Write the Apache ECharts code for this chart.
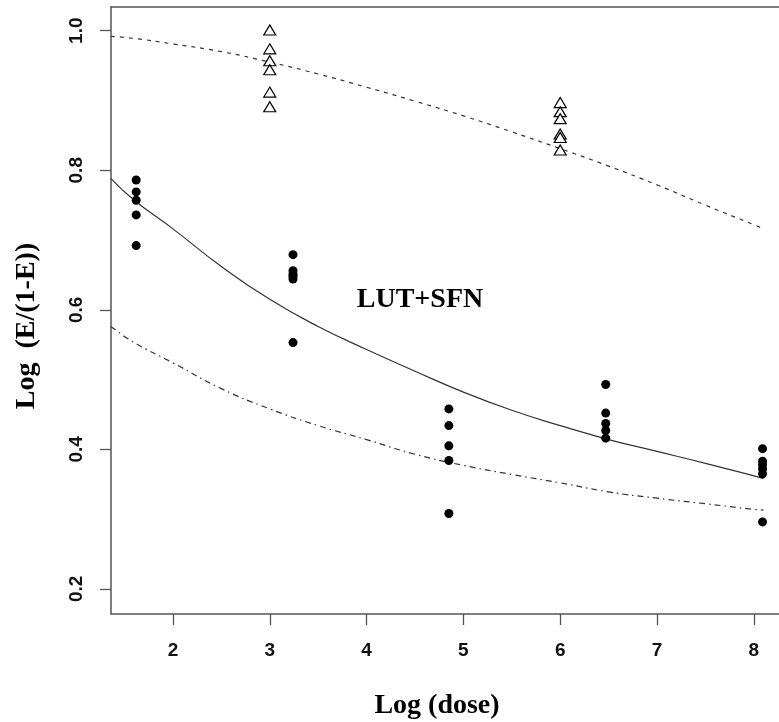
<!DOCTYPE html>
<html>
<head>
<meta charset="utf-8">
<script src="https://cdn.jsdelivr.net/npm/echarts@6/dist/echarts.min.js"></script>
<style>html,body{margin:0;padding:0;background:#fff}#c{width:779px;height:722px}</style>
</head>
<body>
<div id="c"></div>
<script>
// ---- data ----
const xTicks = [2, 3, 4, 5, 6, 7, 8];
const yTicks = [0.2, 0.4, 0.6, 0.8, 1.0];

// filled circles (LUT+SFN observed)
const circleX = [1.62,1.62,1.62,1.62,1.62, 3.24,3.24,3.24,3.24,3.24,3.24, 4.85,4.85,4.85,4.85,4.85, 6.47,6.47,6.47,6.47,6.47, 8.09,8.09,8.09,8.09,8.09,8.09];
const circleY = [0.786,0.769,0.757,0.736,0.692, 0.679,0.656,0.651,0.648,0.644,0.553, 0.458,0.434,0.405,0.384,0.308, 0.493,0.452,0.437,0.427,0.416, 0.401,0.383,0.378,0.372,0.365,0.296];

// open triangles
const triX = [3.0,3.0,3.0,3.0,3.0,3.0, 6.0,6.0,6.0,6.0,6.0,6.0];
const triY = [1.001,0.974,0.957,0.944,0.912,0.891, 0.897,0.884,0.874,0.852,0.847,0.829];

// fitted curves
const curveX = [1.36,1.6,2,2.5,3,3.5,4,4.5,5,5.5,6,6.5,7,7.5,8,8.1];
const solidY = [0.788,0.757,0.716,0.662,0.615,0.576,0.543,0.512,0.482,0.456,0.434,0.414,0.397,0.380,0.362,0.358];
const upperY = [0.992,0.989,0.981,0.970,0.955,0.938,0.919,0.899,0.878,0.855,0.831,0.806,0.779,0.750,0.722,0.716];
const lowerY = [0.576,0.553,0.524,0.487,0.458,0.434,0.414,0.393,0.377,0.364,0.352,0.339,0.330,0.322,0.314,0.313];

const zip = (a, b) => a.map((v, i) => [v, b[i]]);

const chart = echarts.init(document.getElementById('c'), null, {renderer: 'canvas'});
const axisCol = '#555';
const tickFont = {fontFamily: 'Liberation Sans', fontWeight: 'bold', fontSize: 19, color: '#111'};
const frameLine = {show: true, lineStyle: {color: axisCol, width: 1.5}};

chart.setOption({
  animation: false,
  backgroundColor: '#fff',
  grid: {left: 111, top: 7, bottom: 108, right: 0, show: false},
  xAxis: [{
    type: 'value', min: 1.36, max: 8.26, position: 'bottom',
    axisLine: Object.assign({onZero: false}, frameLine),
    splitLine: {show: false},
    axisTick: {show: true, length: 11, customValues: xTicks, lineStyle: {color: axisCol, width: 1.3}},
    axisLabel: Object.assign({margin: 27, customValues: xTicks, formatter: v => String(Math.round(v))}, tickFont)
  }, {
    type: 'value', min: 1.36, max: 8.26, position: 'top',
    axisLine: Object.assign({onZero: false}, frameLine),
    splitLine: {show: false}, axisTick: {show: false}, axisLabel: {show: false}
  }],
  yAxis: {
    type: 'value', min: 0.164, max: 1.034,
    axisLine: Object.assign({onZero: false}, frameLine),
    splitLine: {show: false},
    axisTick: {show: true, length: 11, customValues: yTicks, lineStyle: {color: axisCol, width: 1.3}},
    axisLabel: Object.assign({margin: 25, rotate: 90, customValues: yTicks, formatter: v => v.toFixed(1)}, tickFont)
  },
  graphic: [
    {type: 'text', x: 437, y: 706, style: {text: 'Log (dose)', font: 'bold 28px "Liberation Serif"', fill: '#000', textAlign: 'center', textVerticalAlign: 'middle'}},
    {type: 'text', x: 27, y: 326, rotation: Math.PI / 2, style: {text: 'Log  (E/(1-E))', font: 'bold 28px "Liberation Serif"', fill: '#000', textAlign: 'center', textVerticalAlign: 'middle'}},
    {type: 'text', x: 420, y: 300, style: {text: 'LUT+SFN', font: 'bold 28px "Liberation Serif"', fill: '#000', textAlign: 'center', textVerticalAlign: 'middle'}}
  ],
  series: [
    {type: 'line', data: zip(curveX, solidY), showSymbol: false, smooth: true, lineStyle: {color: '#333', width: 1.2, type: 'solid'}, z: 2},
    {type: 'line', data: zip(curveX, upperY), showSymbol: false, smooth: true, lineStyle: {color: '#333', width: 1.2, type: [4, 5]}, z: 2},
    {type: 'line', data: zip(curveX, lowerY), showSymbol: false, smooth: true, lineStyle: {color: '#333', width: 1.2, type: [6, 4, 1.5, 4]}, z: 2},
    {type: 'scatter', data: zip(circleX, circleY), symbol: 'circle', symbolSize: 9, itemStyle: {color: '#000', opacity: 1}, z: 3},
    {type: 'scatter', data: zip(triX, triY), symbol: 'triangle', symbolSize: [12, 10], itemStyle: {color: '#fff', borderColor: '#000', borderWidth: 1.2, opacity: 1}, z: 3}
  ]
});
</script>
</body>
</html>
